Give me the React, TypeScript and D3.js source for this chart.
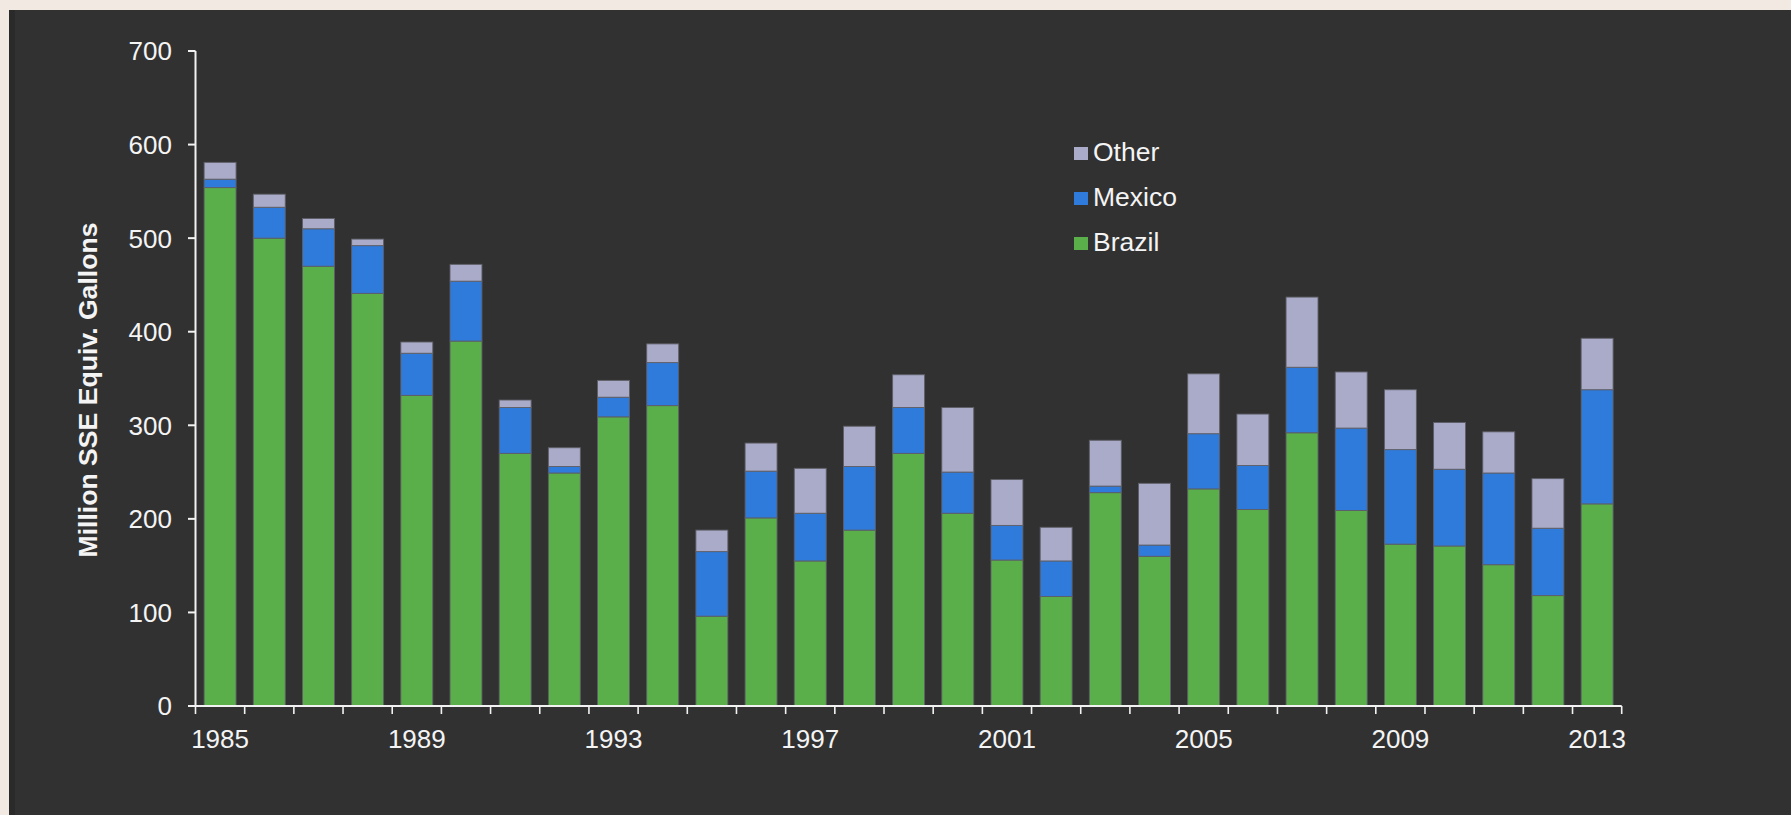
import React from "react";
import * as d3 from "d3";

const years = [1985,1986,1987,1988,1989,1990,1991,1992,1993,1994,1995,1996,1997,1998,1999,2000,2001,2002,2003,2004,2005,2006,2007,2008,2009,2010,2011,2012,2013];
const brazil = [554,500,470,441,332,390,270,249,309,321,96,201,155,188,270,206,156,117,228,160,232,210,292,209,173,171,151,118,216];
const mexico = [9,33,40,51,45,64,49,7,21,46,69,50,51,68,49,44,37,38,7,12,59,47,70,88,101,82,98,72,122];
const other = [18,14,11,7,12,18,8,20,18,20,23,30,48,43,35,69,49,36,49,66,64,55,75,60,64,50,44,53,55];
const yTicks = [0,100,200,300,400,500,600,700];
const xLabelYears = [1985,1989,1993,1997,2001,2005,2009,2013];
const seriesNames = ["Brazil","Mexico","Other"];
const seriesColors = ["#5aaf4b","#2f7bdc","#a9abc9"];
const legendOrder = ["Other","Mexico","Brazil"];

const W = 1791, H = 815;
const FONT = "'Liberation Sans', Arial, Helvetica, sans-serif";

export default function App() {
  const x = d3.scaleBand<number>().domain(years).range([195.5, 1621.7]).paddingInner(0.35).paddingOuter(0.175);
  const y = d3.scaleLinear().domain([0, 700]).range([706, 51]);
  const rows = years.map((yr, i) => ({ year: yr, Brazil: brazil[i], Mexico: mexico[i], Other: other[i] }));
  const stack = d3.stack<any>().keys(seriesNames)(rows);
  const color = d3.scaleOrdinal<string, string>().domain(seriesNames).range(seriesColors);
  const step = x.step();
  const x0 = x.range()[0];
  const boundaries = d3.range(years.length + 1).map((i) => x0 + i * step);

  return (
    <div style={{ position: "absolute", left: 0, top: 0, width: W, height: H }}>
      <svg width={W} height={H} style={{ display: "block" }}>
        <rect x={0} y={0} width={W} height={H} fill="#f2e9e2" />
        <rect x={9} y={10} width={W - 9} height={H - 10} fill="#313131" />
        <rect x={9} y={10} width={6} height={H - 10} fill="#2a2a2a" />

        {stack.map((layer) => (
          <g key={layer.key} fill={color(layer.key)}>
            {layer.map((d, i) => (
              <rect
                key={i}
                x={x(years[i])}
                y={y(d[1])}
                width={x.bandwidth()}
                height={Math.max(0, y(d[0]) - y(d[1]))}
                stroke="#5e5e66"
                strokeWidth={0.9}
              />
            ))}
          </g>
        ))}

        {/* Y axis */}
        <line x1={195.5} x2={195.5} y1={y(700)} y2={y(0)} stroke="#f2f2f2" strokeWidth={2} />
        {yTicks.map((t) => (
          <g key={t}>
            <line x1={188} x2={195.5} y1={y(t)} y2={y(t)} stroke="#f2f2f2" strokeWidth={2} />
            <text x={172} y={y(t)} dy="0.36em" textAnchor="end" fill="#f4f4f4" fontFamily={FONT} fontSize={26}>
              {t}
            </text>
          </g>
        ))}

        {/* X axis */}
        <line x1={195.5} x2={boundaries[boundaries.length - 1]} y1={y(0)} y2={y(0)} stroke="#f2f2f2" strokeWidth={2} />
        {boundaries.map((b, i) => (
          <line key={i} x1={b} x2={b} y1={y(0)} y2={y(0) + 8} stroke="#f2f2f2" strokeWidth={1.6} />
        ))}
        {xLabelYears.map((yr) => (
          <text key={yr} x={(x(yr) as number) + x.bandwidth() / 2} y={748} textAnchor="middle" fill="#f4f4f4" fontFamily={FONT} fontSize={26}>
            {yr}
          </text>
        ))}

        {/* Y title */}
        <text
          transform="translate(97,390) rotate(-90)"
          textAnchor="middle"
          fill="#f4f4f4"
          fontFamily={FONT}
          fontWeight="bold"
          fontSize={26.6}
        >
          Million SSE Equiv. Gallons
        </text>

        {/* Legend */}
        {legendOrder.map((name, i) => (
          <g key={name} transform={`translate(1074, ${147 + i * 45})`}>
            <rect x={0} y={0} width={14} height={13} fill={color(name)} />
            <text x={19} y={14} fill="#f4f4f4" fontFamily={FONT} fontSize={26.5}>
              {name}
            </text>
          </g>
        ))}
      </svg>
    </div>
  );
}
